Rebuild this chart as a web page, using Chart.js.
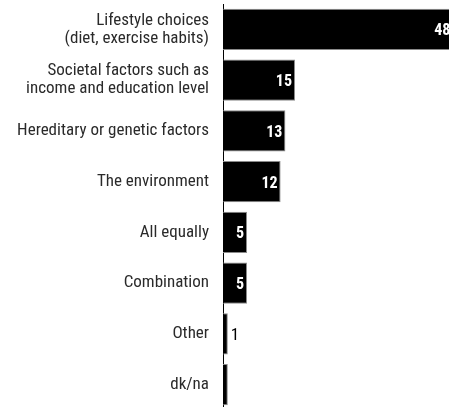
<!DOCTYPE html>
<html>
<head>
<meta charset="utf-8">
<script src="https://cdn.jsdelivr.net/npm/chart.js@4"></script>
<style>
  html, body { margin: 0; padding: 0; background: #fff; overflow: hidden; }
  #wrap { width: 470px; height: 412px; }
</style>
</head>
<body>
<div id="wrap"><canvas id="myChart" width="470" height="412"></canvas></div>
<script>
const categories = [
    ['Lifestyle choices', '(diet, exercise habits)'],
    ['Societal factors such as', 'income and education level'],
    'Hereditary or genetic factors',
    'The environment',
    'All equally',
    'Combination',
    'Other',
    'dk/na'
];
const values = [48, 15, 13, 12, 5, 5, 1, 1];
const valueLabels = ['48', '15', '13', '12', '5', '5', '1', ''];

const fontFamily = '"Roboto Condensed", "Liberation Sans Narrow", "DejaVu Sans Condensed", sans-serif';

const valueLabelPlugin = {
    id: 'valueLabels',
    afterDatasetsDraw(chart) {
        const ctx = chart.ctx;
        const meta = chart.getDatasetMeta(0);
        ctx.save();
        ctx.textBaseline = 'middle';
        meta.data.forEach((bar, i) => {
            const text = valueLabels[i];
            if (!text) return;
            ctx.font = 'bold 16px ' + fontFamily;
            const w = ctx.measureText(text).width;
            const barWidth = bar.x - bar.base;
            if (barWidth > w + 6) {
                ctx.fillStyle = '#fff';
                ctx.textAlign = 'right';
                ctx.fillText(text, bar.x - 3, bar.y + 2);
            } else {
                // too narrow: put it just outside the bar
                ctx.font = '17px ' + fontFamily;
                ctx.fillStyle = '#000';
                ctx.textAlign = 'left';
                ctx.fillText(text, bar.x + 3, bar.y + 2);
            }
        });
        ctx.restore();
    }
};

const ctx = document.getElementById('myChart');

new Chart(ctx, {
    type: 'bar',
    data: {
        labels: categories,
        datasets: [{
            data: values,
            backgroundColor: '#000',
            borderColor: '#8a8a8a',
            borderWidth: 1,
            barPercentage: 0.81,
            categoryPercentage: 1
        }]
    },
    options: {
        indexAxis: 'y',
        responsive: false,
        animation: false,
        layout: {
            padding: { top: 4, bottom: 2, right: 7, left: 0 }
        },
        plugins: {
            legend: { display: false },
            tooltip: { enabled: false }
        },
        scales: {
            x: {
                display: false,
                min: 0,
                max: 50
            },
            y: {
                afterFit(scale) {
                    scale.width = 223;
                    scale.paddingTop = 0;
                    scale.paddingBottom = 0;
                },
                grid: { display: false, drawTicks: false },
                border: { display: true, color: '#000', width: 1 },
                ticks: {
                    padding: 14,
                    color: '#2a2a2a',
                    font: { family: fontFamily, size: 17, lineHeight: 1.05 }
                }
            }
        }
    },
    plugins: [valueLabelPlugin]
});
</script>
</body>
</html>
